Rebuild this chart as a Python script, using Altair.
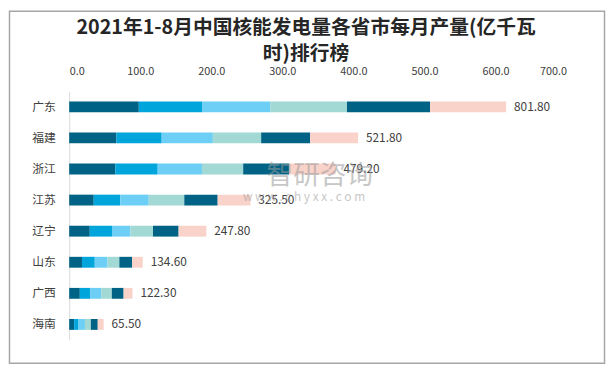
import altair as alt
import pandas as pd

provinces = ["广东", "福建", "浙江", "江苏", "辽宁", "山东", "广西", "海南"]
totals = [801.80, 521.80, 479.20, 325.50, 247.80, 134.60, 122.30, 65.50]
months = ["1月", "2月", "3月", "4月", "5月", "6月"]
m1 = [98.0, 66.5, 65.0, 34.6, 29.0, 18.0, 15.0, 7.0]
m2 = [89.0, 63.7, 59.6, 37.4, 32.0, 18.0, 15.0, 5.5]
m3 = [96.0, 72.0, 62.3, 40.0, 25.0, 18.0, 15.0, 9.7]
m4 = [108.0, 68.0, 58.0, 50.0, 32.0, 16.6, 15.0, 8.3]
m5 = [117.0, 69.0, 65.0, 47.0, 36.0, 18.0, 16.6, 9.7]
m6 = [107.0, 67.4, 65.0, 46.0, 39.0, 15.0, 12.5, 8.3]
x_ticks = [0, 100, 200, 300, 400, 500, 600, 700]
colors = ["#006385", "#00a5dc", "#6dcff6", "#a2d9d5", "#006385", "#f9d2ca"]
title_lines = ["2021年1-8月中国核能发电量各省市每月产量(亿千瓦", "时)排行榜"]

series = [m1, m2, m3, m4, m5, m6]
rows = []
for mi, (m, vals) in enumerate(zip(months, series)):
    for p, v in zip(provinces, vals):
        rows.append({"province": p, "month": m, "idx": mi, "value": v})
df = pd.DataFrame(rows)

sums = [sum(s[i] for s in series) for i in range(len(provinces))]
df_tot = pd.DataFrame({"province": provinces, "barsum": sums,
                       "label": [f"{t:.2f}" for t in totals]})

FONT = "Noto Sans CJK SC"
W, H = 504, 252

y_enc = alt.Y("province:N", sort=provinces, title=None,
              scale=alt.Scale(paddingInner=0, paddingOuter=0),
              axis=alt.Axis(ticks=False, domainColor="#d9d9d9", domainWidth=1,
                            labelPadding=14, labelFont=FONT, labelFontSize=12,
                            labelColor="#404040"))

bars = alt.Chart(df).mark_bar(size=11).encode(
    x=alt.X("value:Q", stack="zero", title=None,
            scale=alt.Scale(domain=[0, 700], nice=False),
            axis=alt.Axis(orient="top", values=x_ticks, format=".1f", grid=False,
                          ticks=False, tickSize=0, domain=False, labelPadding=15,
                          labelFont=FONT, labelFontSize=11, labelColor="#404040")),
    y=y_enc,
    color=alt.Color("month:N", scale=alt.Scale(domain=months, range=colors), legend=None),
    order=alt.Order("idx:Q"),
)

labels = alt.Chart(df_tot).mark_text(align="left", baseline="middle", dx=8,
                                     font=FONT, fontSize=12, color="#404040").encode(
    x="barsum:Q", y=y_enc, text="label:N")

t1 = alt.Chart(pd.DataFrame({"t": [title_lines[0]]})).mark_text(
    align="center", baseline="middle", font=FONT, fontSize=20, fontWeight="bold",
    color="#262626").encode(text="t:N", x=alt.value(240), y=alt.value(-64))
t2 = alt.Chart(pd.DataFrame({"t": [title_lines[1]]})).mark_text(
    align="center", baseline="middle", font=FONT, fontSize=20, fontWeight="bold",
    color="#262626").encode(text="t:N", x=alt.value(240), y=alt.value(-38))

wm1 = alt.Chart(pd.DataFrame({"t": ["智研咨询"]})).mark_text(
    align="center", baseline="middle", font=FONT, fontSize=27, color="#9a9a9a",
    opacity=0.55).encode(text="t:N", x=alt.value(254), y=alt.value(86))
wm2 = alt.Chart(pd.DataFrame({"t": ["w w w . c h y x x . c o m"]})).mark_text(
    align="center", baseline="middle", font=FONT, fontSize=12, color="#9a9a9a",
    opacity=0.55).encode(text="t:N", x=alt.value(238), y=alt.value(107))

border = alt.Chart(pd.DataFrame({"a": [0]})).mark_rect(
    fillOpacity=0, stroke="#a6a6a6", strokeWidth=1.5).encode(
    x=alt.value(-60.5), x2=alt.value(542.5), y=alt.value(-81.2), y2=alt.value(275.5))

chart = alt.layer(bars, labels, wm1, wm2, t1, t2, border).properties(
    width=W, height=H, padding=0, background="white"
).configure_view(stroke=None)

chart.save("out.html", embed_options={"renderer": "svg", "actions": False})
